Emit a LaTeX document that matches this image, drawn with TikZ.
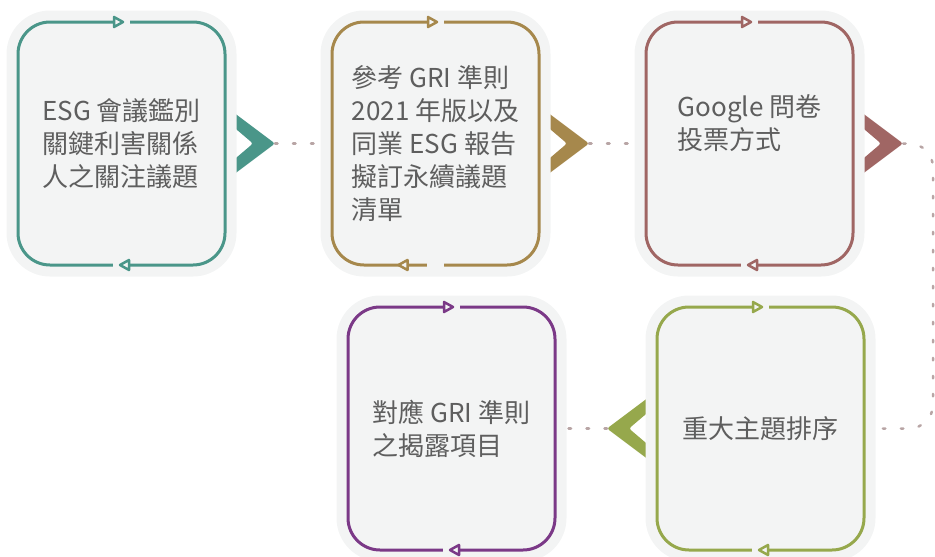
\documentclass[tikz,border=0pt]{standalone}
\usepackage{fontspec}
\setmainfont{Noto Sans CJK TC}
\usetikzlibrary{positioning,backgrounds}
\definecolor{panel}{HTML}{F3F4F4}
\definecolor{txt}{HTML}{5E5E5E}
\definecolor{dots}{HTML}{B8A5A5}
\definecolor{s1}{HTML}{4A9689}
\definecolor{s2}{HTML}{A6884C}
\definecolor{s3}{HTML}{A06664}
\definecolor{s4}{HTML}{96A84C}
\definecolor{s5}{HTML}{7B3987}
% gaps and small open tips on the frame of a box
\newcommand{\loopmarks}[3]{%
  \draw[panel,line width=4pt] ([xshift=-8.5pt]#1.north) -- ([xshift=8.5pt]#1.north);
  \draw[panel,line width=4pt] ([xshift=-8.5pt]#1.south) -- ([xshift=8pt]#1.south);
  \draw[looptip=#2] ([xshift=1.5pt]#1.north) -- ++(-9,5) -- ++(0,-10) -- cycle;
  \draw[looptip=#2] ([xshift=#3]#1.south) -- ++(9,5) -- ++(0,-10) -- cycle;
}
\newcommand{\chevron}[3]{%
  \fill[#1,rounded corners=2.5pt] ([xshift=#3*8pt,yshift=31.5pt]#2) -- ++({(#3)*42},-31.5) -- ++({-1*(#3)*42},-31.5)
    -- ++(0,14.5) -- ++({(#3)*20},17) -- ++({-1*(#3)*20},17) -- cycle;
}

\begin{document}
\begin{tikzpicture}[x=1pt,y=1pt,%
  stage/.style={draw=#1,line width=3pt,fill=panel,rounded corners=32pt,%
    minimum width=207pt,minimum height=243pt,inner sep=0pt,outer sep=0pt,%
    align=left,text=txt,font=\fontsize{26}{33}\selectfont,%
    preaction={draw=panel,line width=23pt}},%
  looptip/.style={draw=#1,fill=panel,line width=2.5pt,line join=round},%
  dotline/.style={dots,line width=2.5pt,line cap=round,dash pattern=on 2.5pt off 15.5pt}%
  ]
  \useasboundingbox (0,0) rectangle (935,-557);
%
  \node[stage=s1] (esg) at (121.5,-143.5) {ESG 會議鑑別\\關鍵利害關係\\人之關注議題};
  \node[stage=s2,right=107pt of esg] (gri) {參考 GRI 準則\\2021 年版以及\\同業 ESG 報告\\擬訂永續議題\\清單};
  \node[stage=s3,right=107pt of gri] (vote) {Google 問卷\\投票方式\\\strut};
  \node[stage=s4,below=42pt of vote,xshift=11pt] (rank) {重大主題排序};
  \node[stage=s5,left=102pt of rank] (disclose) {對應 GRI 準則\\之揭露項目};
%
  \loopmarks{esg}{s1}{-1.5pt}
  \loopmarks{gri}{s2}{-37pt}
  \loopmarks{vote}{s3}{-1.5pt}
  \loopmarks{rank}{s4}{-1.5pt}
  \loopmarks{disclose}{s5}{-1.5pt}
%
  \coordinate (esg-tip) at ([xshift=50pt]esg.east);
  \coordinate (gri-tip) at ([xshift=50pt]gri.east);
  \coordinate (vote-tip) at ([xshift=50pt]vote.east);
  \coordinate (rank-tip) at ([xshift=-50pt]rank.west);
%
  \begin{scope}[on background layer]
    \chevron{s1}{esg.east}{1}
    \chevron{s2}{gri.east}{1}
    \chevron{s3}{vote.east}{1}
    \chevron{s4}{rank.west}{-1}
%
    \draw[dotline] (esg-tip) -- (gri.west);
    \draw[dotline] (gri-tip) -- (vote.west);
    \draw[dotline,rounded corners=24pt] (vote-tip) -| ([xshift=69pt]rank.east) -- (rank.east);
    \draw[dotline] (rank-tip) -- (disclose.east);
  \end{scope}
%
\end{tikzpicture}
\end{document}
